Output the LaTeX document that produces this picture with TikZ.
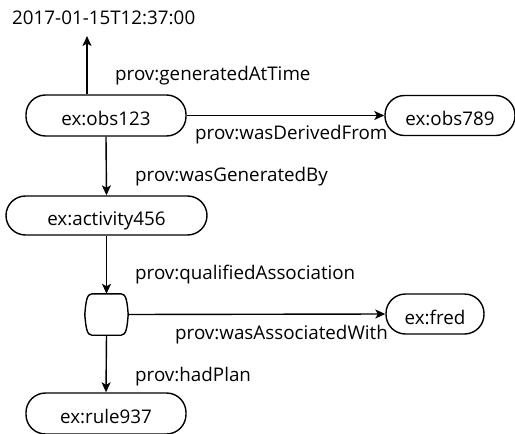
\documentclass[tikz,border=0pt]{standalone}
\usepackage{fontspec}
\setmainfont{Open Sans}
\usetikzlibrary{arrows.meta}
\begin{document}
\begin{tikzpicture}[x=1pt,y=-1pt,
  txt/.style={font=\fontsize{18.8}{22}\selectfont},
  lbl/.style={txt,inner sep=0pt,anchor=base west},
  res/.style={txt,draw,line width=1.4pt,rounded corners=19.5pt,inner sep=0pt,text height=20pt,text depth=0pt},
  conn/.style={line width=1.4pt,-{Stealth[length=10pt,width=9pt,inset=2.5pt]}}]
\useasboundingbox (0,0) rectangle (515,434);
\node[lbl] (ts) at (12,24) {2017-01-15T12:37:00};
\coordinate (tsend) at (87,36);
\node[res,minimum width=160pt,minimum height=41pt] (obs123) at (106,115.5) {ex:obs123};
\node[res,minimum width=130pt,minimum height=40pt] (obs789) at (450,115.5) {ex:obs789};
\node[res,minimum width=201pt,minimum height=39pt] (act) at (106.5,215.5) {ex:activity456};
\node[res,minimum width=98pt,minimum height=40pt] (fred) at (435,314) {ex:fred};
\node[res,minimum width=160pt,minimum height=41pt] (rule) at (106,413.5) {ex:rule937};
\node[inner sep=0pt,minimum width=41pt,minimum height=41pt] (bn) at (106.5,314.5) {};
\draw[line width=1.4pt] (bn.north west) ++(6,0) -- ([xshift=-6pt]bn.north east)
  .. controls ([xshift=-1pt]bn.north east) and ([yshift=-8pt]bn.north east) .. ([xshift=1pt]bn.east)
  .. controls ([yshift=8pt]bn.south east) and ([xshift=-1pt]bn.south east) .. ([xshift=-6pt]bn.south east)
  -- ([xshift=6pt]bn.south west)
  .. controls ([xshift=1pt]bn.south west) and ([yshift=8pt]bn.south west) .. ([xshift=-1pt]bn.west)
  .. controls ([yshift=-8pt]bn.north west) and ([xshift=1pt]bn.north west) .. ([xshift=6pt]bn.north west);
\draw[conn] (obs123.north -| tsend) -- (tsend);
\draw[conn] (obs123.east) -- (obs789.west);
\draw[conn] (obs123.south) -- (act.north);
\draw[conn] (act.south) -- (bn.north);
\draw[conn] ([xshift=1pt]bn.east) -- (fred.west);
\draw[conn] (bn.south) -- (rule.north);
\node[lbl] (l1) at (115,80) {prov:generatedAtTime};
\node[lbl] (l2) at (195,139) {prov:wasDerivedFrom};
\node[lbl] (l3) at (135,181) {prov:wasGeneratedBy};
\node[lbl] (l4) at (135,279) {prov:qualifiedAssociation};
\node[lbl] (l5) at (175,339) {prov:wasAssociatedWith};
\node[lbl] (l6) at (135,381) {prov:hadPlan};
\end{tikzpicture}
\end{document}
